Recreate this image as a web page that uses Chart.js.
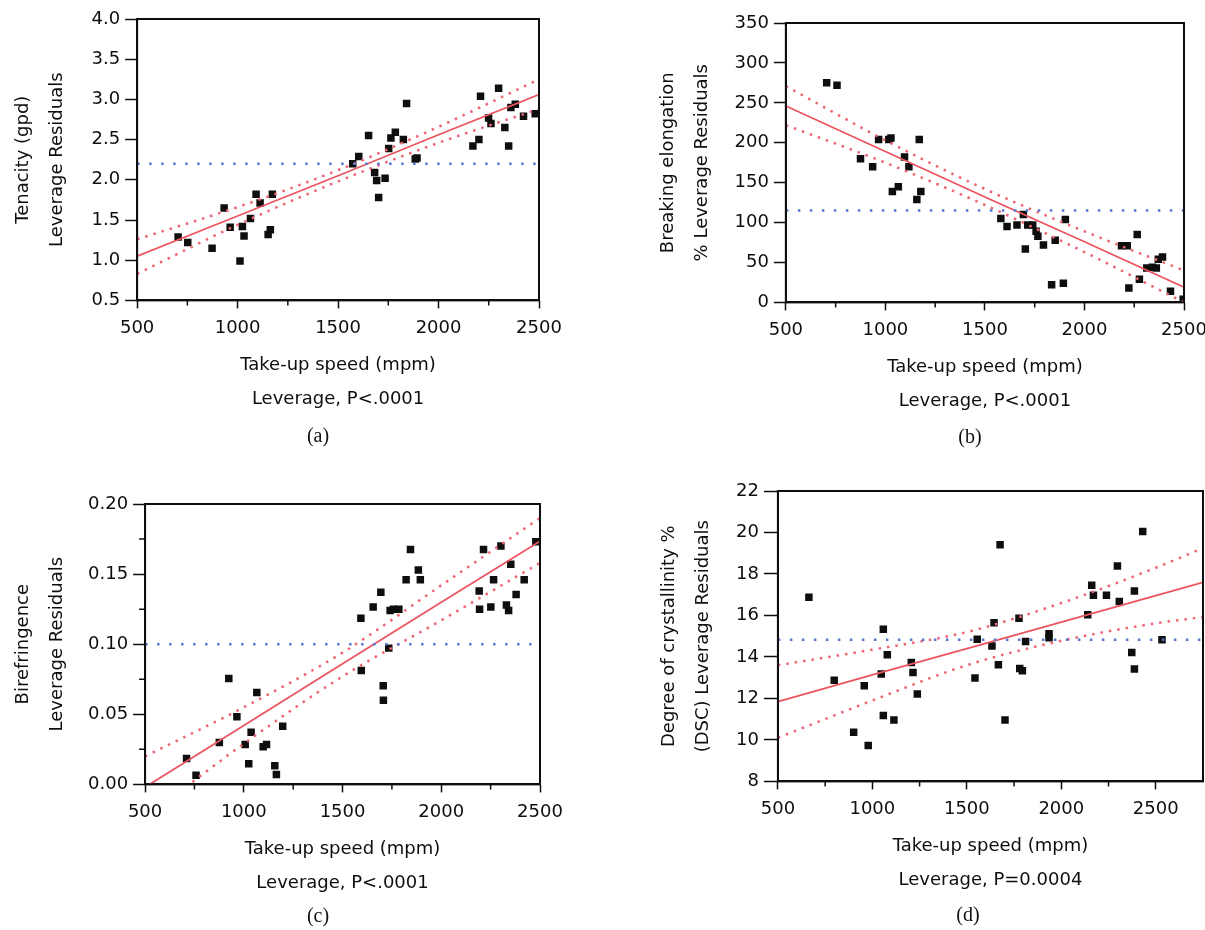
<!DOCTYPE html>
<html lang="en">
<head>
<meta charset="UTF-8" />
<title>Leverage residual plots</title>
<script src="https://cdn.jsdelivr.net/npm/chart.js"></script>
<style>
  body {
    margin: 0;
    width: 1205px;
    height: 930px;
    overflow: hidden;
    background: #fff;
    position: relative;
  }
  canvas { position: absolute; }
  .cap {
    position: absolute;
    width: 60px;
    text-align: center;
    font-family: 'Liberation Serif', 'Times New Roman', serif;
    font-size: 20px;
    line-height: 24px;
    color: #111;
  }
</style>
</head>
<body>
<canvas id="chartA" width="600" height="450" style="left:0;top:0"></canvas>
<canvas id="chartB" width="645" height="450" style="left:600px;top:0"></canvas>
<canvas id="chartC" width="600" height="460" style="left:0;top:460px"></canvas>
<canvas id="chartD" width="640" height="460" style="left:600px;top:460px"></canvas>
<div class="cap" style="left:288px;top:423px">(a)</div>
<div class="cap" style="left:940px;top:424px">(b)</div>
<div class="cap" style="left:288px;top:903px">(c)</div>
<div class="cap" style="left:938px;top:902px">(d)</div>

<script>
// x axis (all panels)
const speedTicks = [500, 1000, 1500, 2000, 2500];
const speedMinor = [750, 1250, 1750, 2250];
const bandSpeed = [500, 1000, 1500, 2000, 2500];
const bandSpeedD = [500, 1000, 1500, 2000, 2500, 2750];

// (a) tenacity
const aSpeed = [704, 752, 873, 933, 963, 1012, 1024, 1032, 1064, 1092, 1112, 1152, 1163, 1173,
  1573, 1603, 1652, 1682, 1692, 1702, 1734, 1752, 1763, 1785, 1825, 1841, 1884, 1893,
  2171, 2201, 2209, 2249, 2261, 2299, 2330, 2349, 2360, 2382, 2423, 2481];
const aTenacity = [1.29, 1.22, 1.15, 1.65, 1.41, 0.99, 1.42, 1.30, 1.52, 1.82, 1.71, 1.32, 1.38, 1.82,
  2.20, 2.29, 2.55, 2.09, 1.99, 1.78, 2.02, 2.39, 2.52, 2.59, 2.50, 2.95, 2.26, 2.27,
  2.42, 2.50, 3.04, 2.77, 2.70, 3.14, 2.65, 2.42, 2.90, 2.94, 2.79, 2.82];
const aFit = [1.05, 1.55, 2.05, 2.56, 3.06];
const aUpper = [1.26, 1.66, 2.12, 2.66, 3.25];
const aLower = [0.83, 1.44, 1.98, 2.46, 2.88];
const aMean = 2.2;
const aTicks = [0.5, 1.0, 1.5, 2.0, 2.5, 3.0, 3.5, 4.0];

// (b) breaking elongation
const bSpeed = [705, 757, 875, 936, 966, 1017, 1028, 1035, 1065, 1096, 1118, 1158, 1170, 1178,
  1580, 1611, 1661, 1693, 1703, 1715, 1740, 1757, 1766, 1794, 1835, 1853, 1894, 1904,
  2186, 2215, 2223, 2265, 2276, 2313, 2341, 2361, 2371, 2392, 2432, 2496];
const bElong = [275, 272, 180, 170, 204, 204, 206, 139, 145, 182, 170, 129, 204, 139,
  105, 95, 97, 110, 67, 97, 97, 89, 83, 72, 22, 78, 24, 104,
  71, 71, 18, 85, 29, 43, 44, 43, 54, 57, 14, 4];
const bFit = [246, 189, 132, 76, 19];
const bUpper = [271, 203, 142, 89, 40];
const bLower = [222, 175, 122, 63, 0];
const bMean = 115;
const bTicks = [0, 50, 100, 150, 200, 250, 300, 350];

// (c) birefringence
const cSpeed = [710, 758, 876, 924, 965, 1007, 1025, 1037, 1066, 1098, 1115, 1157, 1165, 1197,
  1593, 1595, 1655, 1694, 1706, 1707, 1734, 1741, 1758, 1785, 1822, 1844, 1884, 1894,
  2192, 2194, 2214, 2251, 2265, 2302, 2330, 2341, 2352, 2379, 2420, 2479];
const cBiref = [0.0185, 0.0066, 0.0299, 0.0756, 0.0483, 0.0284, 0.0147, 0.0372, 0.0656, 0.0268, 0.0284, 0.0133, 0.0071, 0.0415,
  0.1185, 0.0813, 0.1265, 0.137, 0.0704, 0.060, 0.0972, 0.124, 0.125, 0.125, 0.146, 0.1675, 0.153, 0.146,
  0.138, 0.125, 0.1675, 0.1265, 0.146, 0.170, 0.128, 0.124, 0.157, 0.1355, 0.146, 0.173];
const cFit = [-0.002, 0.042, 0.086, 0.130, 0.1735];
const cUpper = [0.020, 0.055, 0.094, 0.142, 0.190];
const cLower = [-0.024, 0.029, 0.077, 0.117, 0.158];
const cMean = 0.10;
const cTicks = [0.00, 0.05, 0.10, 0.15, 0.20];
const cMinor = [0.025, 0.075, 0.125, 0.175];

// (d) crystallinity
const dSpeed = [664, 798, 901, 957, 978, 1047, 1058, 1058, 1079, 1114, 1206, 1215, 1238,
  1543, 1555, 1633, 1644, 1667, 1676, 1702, 1776, 1780, 1794, 1811, 1935, 1935,
  2140, 2161, 2170, 2239, 2297, 2307, 2373, 2387, 2387, 2431, 2533];
const dCryst = [16.88, 12.88, 10.37, 12.61, 9.73, 13.18, 15.33, 11.18, 14.11, 10.96, 13.73, 13.25, 12.21,
  12.99, 14.85, 14.53, 15.65, 13.62, 19.41, 10.96, 15.86, 13.44, 13.34, 14.75, 15.12, 14.93,
  16.03, 17.46, 16.98, 16.98, 18.38, 16.67, 14.21, 17.18, 13.42, 20.05, 14.83];
const dFit = [11.85, 13.13, 14.4, 15.68, 16.96, 17.6];
const dUpper = [13.6, 14.35, 15.2, 16.6, 18.3, 19.25];
const dLower = [10.1, 11.9, 13.6, 14.78, 15.62, 15.92];
const dMean = 14.83;
const dTicks = [8, 10, 12, 14, 16, 18, 20, 22];

const INK = '#0e0e0e';
const RED = '#ec5560';
const PINK = '#ef6474';
const BLUE = '#5577d4';
const FONT = "'DejaVu Sans', sans-serif";

// box round the plot + the short minor ticks
const framePlugin = {
  id: 'frame',
  afterDatasetsDraw(chart, args, opts) {
    const { ctx, chartArea: a, scales } = chart;
    ctx.save();
    ctx.strokeStyle = INK;
    ctx.lineWidth = 2;
    ctx.strokeRect(a.left, a.top, a.right - a.left, a.bottom - a.top);
    ctx.lineWidth = 1.5;
    ctx.beginPath();
    (opts.xMinor || []).forEach(v => {
      const x = scales.x.getPixelForValue(v);
      ctx.moveTo(x, a.bottom);
      ctx.lineTo(x, a.bottom + 5);
    });
    (opts.yMinor || []).forEach(v => {
      const y = scales.y.getPixelForValue(v);
      ctx.moveTo(a.left, y);
      ctx.lineTo(a.left - 6, y);
    });
    ctx.stroke();
    ctx.restore();
  }
};

function pairs(xs, ys) {
  return xs.map((x, i) => ({ x: x, y: ys[i] }));
}

function residualChart(id, o) {
  const lineBase = { showLine: true, pointRadius: 0, fill: false };
  new Chart(document.getElementById(id), {
    type: 'scatter',
    data: {
      datasets: [
        Object.assign({ data: [{ x: o.xMin, y: o.mean }, { x: o.xMax, y: o.mean }],
          borderColor: BLUE, borderWidth: 2.5, borderDash: [2.5, 9.5] }, lineBase),
        Object.assign({ data: pairs(o.bandX, o.upper), borderColor: PINK, borderWidth: 2.5,
          borderDash: [2.5, 6], cubicInterpolationMode: 'monotone' }, lineBase),
        Object.assign({ data: pairs(o.bandX, o.lower), borderColor: PINK, borderWidth: 2.5,
          borderDash: [2.5, 6], cubicInterpolationMode: 'monotone' }, lineBase),
        Object.assign({ data: pairs(o.bandX, o.fit), borderColor: RED, borderWidth: 1.8 }, lineBase),
        { data: pairs(o.xs, o.ys), pointStyle: 'rect', pointRadius: 5.3, backgroundColor: INK,
          borderWidth: 0 }
      ]
    },
    options: {
      responsive: false,
      animation: false,
      events: [],
      layout: { padding: o.pad },
      plugins: {
        legend: { display: false },
        tooltip: { enabled: false },
        frame: { xMinor: speedMinor, yMinor: o.yMinor }
      },
      scales: {
        x: {
          type: 'linear',
          min: o.xMin,
          max: o.xMax,
          afterBuildTicks: s => { s.ticks = speedTicks.map(v => ({ value: v })); },
          ticks: { font: { family: FONT, size: 18 }, color: INK, padding: 9, maxRotation: 0,
            callback: v => String(v) },
          grid: { drawOnChartArea: false, drawTicks: true, tickLength: 8, tickWidth: 1.5, tickColor: INK },
          border: { display: true, color: INK, width: 2 },
          title: {
            display: true,
            text: ['Take-up speed (mpm)', o.pText],
            color: INK,
            font: { family: FONT, size: 18, lineHeight: 34 / 18 },
            padding: { top: 0, bottom: 0 }
          }
        },
        y: {
          type: 'linear',
          min: o.yTicks[0],
          max: o.yTicks[o.yTicks.length - 1],
          afterBuildTicks: s => { s.ticks = o.yTicks.map(v => ({ value: v })); },
          ticks: { font: { family: FONT, size: 18 }, color: INK, padding: 5,
            callback: v => v.toFixed(o.yDec) },
          grid: { drawOnChartArea: false, drawTicks: true, tickLength: o.yTickLen || 12, tickWidth: 1.5, tickColor: INK },
          border: { display: true, color: INK, width: 2 },
          title: {
            display: true,
            text: o.yTitle,
            color: INK,
            font: { family: FONT, size: 18, lineHeight: 34 / 18 },
            padding: { top: 6, bottom: o.yTitleGap }
          }
        }
      }
    },
    plugins: [framePlugin]
  });
}

residualChart('chartA', {
  xs: aSpeed, ys: aTenacity, bandX: bandSpeed, fit: aFit, upper: aUpper, lower: aLower, mean: aMean,
  xMin: 500, xMax: 2500, yTicks: aTicks, yDec: 1, yMinor: [],
  yTitle: ['Tenacity (gpd)', 'Leverage Residuals'], yTitleGap: 12.5, pText: 'Leverage, P<.0001',
  pad: { left: 0, top: 19, right: 61, bottom: 34 }
});

residualChart('chartB', {
  xs: bSpeed, ys: bElong, bandX: bandSpeed, fit: bFit, upper: bUpper, lower: bLower, mean: bMean,
  xMin: 500, xMax: 2500, yTicks: bTicks, yDec: 0, yMinor: [],
  yTitle: ['Breaking elongation', '% Leverage Residuals'], yTitleGap: 10.5, pText: 'Leverage, P<.0001',
  pad: { left: 45, top: 23, right: 61, bottom: 32 }
});

residualChart('chartC', {
  xs: cSpeed, ys: cBiref, bandX: bandSpeed, fit: cFit, upper: cUpper, lower: cLower, mean: cMean,
  xMin: 500, xMax: 2500, yTicks: cTicks, yDec: 2, yMinor: cMinor,
  yTitle: ['Birefringence', 'Leverage Residuals'], yTitleGap: 9, pText: 'Leverage, P<.0001',
  pad: { left: 0, top: 44, right: 60, bottom: 20 }
});

residualChart('chartD', {
  xs: dSpeed, ys: dCryst, bandX: bandSpeedD, fit: dFit, upper: dUpper, lower: dLower, mean: dMean,
  xMin: 500, xMax: 2750, yTicks: dTicks, yDec: 0, yMinor: [], yTickLen: 14,
  yTitle: ['Degree of crystallinity %', '(DSC) Leverage Residuals'], yTitleGap: 11, pText: 'Leverage, P=0.0004',
  pad: { left: 46, top: 31, right: 37, bottom: 23 }
});
</script>
</body>
</html>
